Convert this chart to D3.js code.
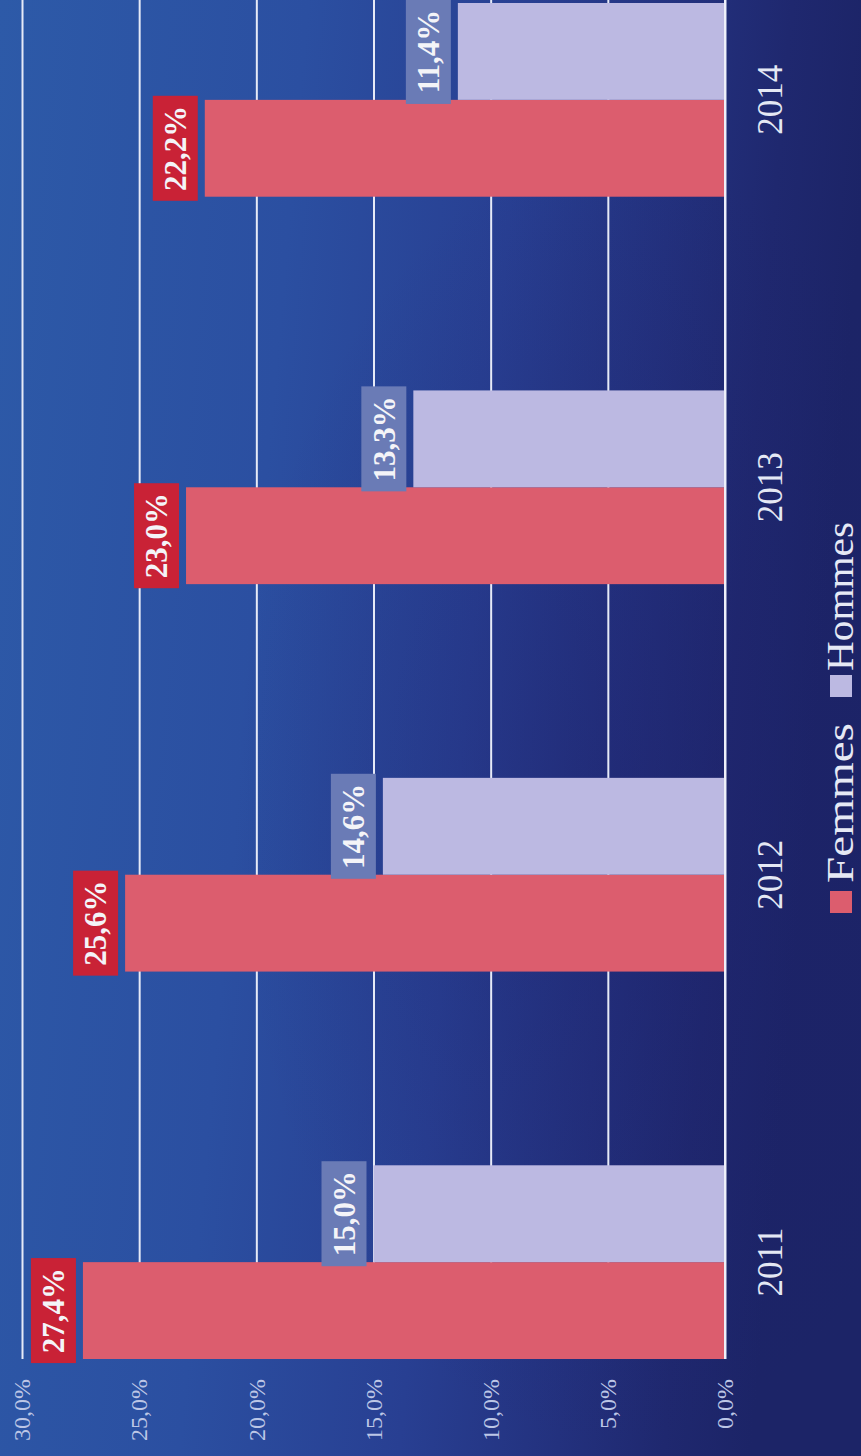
<!DOCTYPE html>
<html><head><meta charset="utf-8">
<script src="https://cdn.jsdelivr.net/npm/d3@7"></script>
<style>html,body{margin:0;padding:0;background:#1c2468;} svg{display:block;}</style>
</head><body><svg id="chart" width="861" height="1456"></svg>
<script>
const categories = ["2011", "2012", "2013", "2014"];
const seriesNames = ["Femmes", "Hommes"];
const femmes = [27.4, 25.6, 23.0, 22.2];
const hommes = [15.0, 14.6, 13.3, 11.4];
const tickValues = [0, 5, 10, 15, 20, 25, 30];

const rows = categories.map((c, i) => ({cat: c, values: [
  {name: "Femmes", v: femmes[i]}, {name: "Hommes", v: hommes[i]}]}));

const svg = d3.select("#chart");
const defs = svg.append("defs");
const lg = defs.append("linearGradient").attr("id", "bg")
  .attr("x1", 0).attr("y1", 0).attr("x2", 1).attr("y2", 0.15);
[[0, "#2d5aa8"], [0.35, "#2b4fa1"], [0.6, "#283f92"], [0.78, "#23317e"], [0.9, "#1f286f"], [1, "#1c2467"]]
  .forEach(([o, c]) => lg.append("stop").attr("offset", o).attr("stop-color", c));
const rg = defs.append("radialGradient").attr("id", "shade")
  .attr("cx", 0.72).attr("cy", 0.55).attr("r", 0.45);
rg.append("stop").attr("offset", 0).attr("stop-color", "#1e1f6a").attr("stop-opacity", 0.35);
rg.append("stop").attr("offset", 1).attr("stop-color", "#1e1f6a").attr("stop-opacity", 0);

svg.append("rect").attr("width", 861).attr("height", 1456).attr("fill", "url(#bg)");
svg.append("rect").attr("width", 861).attr("height", 1456).attr("fill", "url(#shade)");

// landscape chart drawn rotated -90deg
const g = svg.append("g").attr("transform", "translate(0,1456) rotate(-90)");
const serif = "'Liberation Serif','Times New Roman',serif";

const y = d3.scaleLinear().domain([0, 30]).range([725, 22]);
const x0 = d3.scaleBand().domain(categories).range([97, 1453]).paddingInner(0.5).paddingOuter(0);
const x1 = d3.scaleBand().domain(seriesNames).range([0, x0.bandwidth()]);
const color = d3.scaleOrdinal().domain(seriesNames).range(["#dc5d6e", "#bcb9e2"]);
const boxColor = d3.scaleOrdinal().domain(seriesNames).range(["#c92236", "#6a7bb6"]);
const loc = d3.formatLocale({decimal: ",", thousands: " ", grouping: [3], currency: ["", "€"]});
const f1 = loc.format(".1f");
const fmt = v => f1(v) + "%";

// grid + tick labels
const axis = g.append("g").attr("transform", "translate(97,0)")
  .call(d3.axisLeft(y).tickValues(tickValues).tickSizeInner(-1359).tickSizeOuter(0)
    .tickPadding(20).tickFormat(fmt));
axis.select(".domain").remove();
axis.selectAll(".tick line").attr("stroke", "#e6eaf7").attr("stroke-width", 2);
axis.selectAll(".tick text").attr("fill", "#bcc6e6").attr("font-family", serif)
  .attr("font-size", 24);

// bars
const grp = g.append("g").selectAll("g").data(rows).join("g")
  .attr("transform", d => `translate(${x0(d.cat)},0)`);
grp.selectAll("rect.bar").data(d => d.values).join("rect").attr("class", "bar")
  .attr("x", d => x1(d.name)).attr("width", x1.bandwidth())
  .attr("y", d => y(d.v)).attr("height", d => y(0) - y(d.v))
  .attr("fill", d => color(d.name));

// baseline
g.append("line").attr("x1", 97).attr("x2", 1456).attr("y1", y(0)).attr("y2", y(0))
  .attr("stroke", "#eef0fa").attr("stroke-width", 2);

// value labels
const bw = 105, bh = 45, gap = 7;
const lab = grp.selectAll("g.lab").data(d => d.values).join("g").attr("class", "lab")
  .attr("transform", d => `translate(${x1(d.name) + x1.bandwidth() / 2},${y(d.v) - gap - bh / 2})`);
lab.append("rect").attr("x", -bw / 2).attr("y", -bh / 2).attr("width", bw).attr("height", bh)
  .attr("fill", d => boxColor(d.name));
lab.append("text").attr("text-anchor", "middle").attr("dy", "0.35em")
  .attr("font-family", serif).attr("font-weight", "bold").attr("font-size", 31)
  .attr("fill", "#f4f4f8").text(d => fmt(d.v));

// category labels
g.append("g").selectAll("text").data(categories).join("text")
  .attr("x", d => x0(d) + x0.bandwidth() / 2).attr("y", 782)
  .attr("text-anchor", "middle").attr("font-family", serif).attr("font-size", 35)
  .attr("fill", "#e4e8f4").text(d => d);

// legend
const legendPos = [{x: 543, len: 160}, {x: 759, len: 149}];
const leg = g.append("g").selectAll("g").data(seriesNames).join("g")
  .attr("transform", (d, i) => `translate(${legendPos[i].x},0)`);
leg.append("rect").attr("x", 0).attr("y", 830).attr("width", 22).attr("height", 22)
  .attr("fill", d => color(d));
leg.append("text").attr("x", (d, i) => i === 0 ? 30 : 26).attr("y", 853)
  .attr("font-family", serif).attr("font-size", 37).attr("fill", "#e6e9f5")
  .attr("textLength", (d, i) => legendPos[i].len).attr("lengthAdjust", "spacingAndGlyphs")
  .text(d => d);
</script></body></html>
